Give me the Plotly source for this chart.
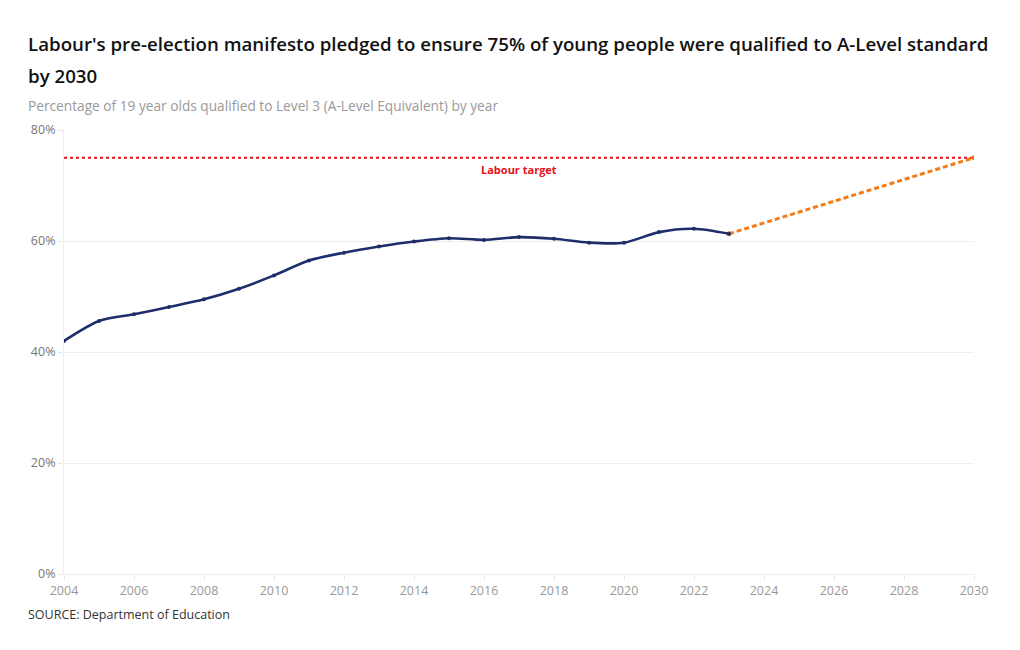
import plotly.graph_objects as go

years = list(range(2004, 2024))
pct = [42.0, 45.6, 46.8, 48.1, 49.5, 51.4, 53.8, 56.5, 57.9, 59.0,
       59.9, 60.5, 60.2, 60.7, 60.4, 59.7, 59.7, 61.6, 62.2, 61.3]

proj_years = [2023, 2030]
proj_pct = [61.3, 75.0]

target_years = [2004, 2030]
target_pct = [75.0, 75.0]

x_ticks = list(range(2004, 2031, 2))
y_ticks = [0, 20, 40, 60, 80]
y_tick_labels = ["0%", "20%", "40%", "60%", "80%"]

FONT = "Open Sans"

# plot area in pixels
L, R, T, B = 64, 974, 130, 574


def px(x):
    return (x - L) / (R - L)


def py(y):
    return (B - y) / (B - T)


fig = go.Figure()

fig.add_trace(go.Scatter(
    x=target_years, y=target_pct, mode="lines",
    line=dict(color="#e8101a", width=2, dash="dot"),
    hoverinfo="skip", showlegend=False))

fig.add_trace(go.Scatter(
    x=proj_years, y=proj_pct, mode="lines+markers",
    line=dict(color="#f47b16", width=3, dash="5px,3px"),
    marker=dict(size=5, color="#f47b16"),
    showlegend=False))

fig.add_trace(go.Scatter(
    x=years, y=pct, mode="lines+markers",
    line=dict(color="#1f2d6b", width=2.6, shape="spline", smoothing=0.8),
    marker=dict(size=4, color="#1f2d6b"),
    showlegend=False))

fig.add_annotation(
    x=2017, y=75, xref="x", yref="y", yshift=-12,
    text="<b>Labour target</b>", showarrow=False,
    font=dict(family=FONT, size=11, color="#e8101a"))

fig.add_annotation(
    x=px(26), y=py(44), xref="paper", yref="paper",
    xanchor="left", yanchor="middle", showarrow=False, align="left",
    text="Labour's pre-election manifesto pledged to ensure 75% of young people were qualified to A-Level standard",
    font=dict(family=FONT, size=18.7, color="#111111", weight=600))
fig.add_annotation(
    x=px(26), y=py(75), xref="paper", yref="paper",
    xanchor="left", yanchor="middle", showarrow=False, align="left",
    text="by 2030",
    font=dict(family=FONT, size=18.7, color="#111111", weight=600))
fig.add_annotation(
    x=px(26), y=py(105), xref="paper", yref="paper",
    xanchor="left", yanchor="middle", showarrow=False, align="left",
    text="Percentage of 19 year olds qualified to Level 3 (A-Level Equivalent) by year",
    font=dict(family=FONT, size=13.7, color="#9a9a9a"))
fig.add_annotation(
    x=px(26), y=py(614), xref="paper", yref="paper",
    xanchor="left", yanchor="middle", showarrow=False, align="left",
    text="SOURCE: Department of Education",
    font=dict(family=FONT, size=12.5, color="#333333"))

fig.update_layout(
    width=1020, height=650,
    margin=dict(l=L, r=1020 - R, t=T, b=650 - B),
    paper_bgcolor="white", plot_bgcolor="white",
    font=dict(family=FONT),
    xaxis=dict(
        range=[2004, 2030], tickvals=x_ticks,
        ticktext=[str(v) for v in x_ticks],
        showgrid=False, zeroline=False,
        showline=True, linecolor="#eeeeee", linewidth=1,
        ticks="outside", ticklen=5, tickcolor="#e6e6e6",
        tickfont=dict(family=FONT, size=12.5, color="#999999")),
    yaxis=dict(
        range=[0, 80], tickvals=y_ticks, ticktext=y_tick_labels,
        showgrid=True, gridcolor="#eeeeee", gridwidth=1,
        zeroline=False, showline=True, linecolor="#eeeeee", linewidth=1,
        ticks="outside", ticklen=5, tickcolor="#e6e6e6",
        tickfont=dict(family=FONT, size=12.5, color="#777777")),
)

fig.write_html("out.html")
